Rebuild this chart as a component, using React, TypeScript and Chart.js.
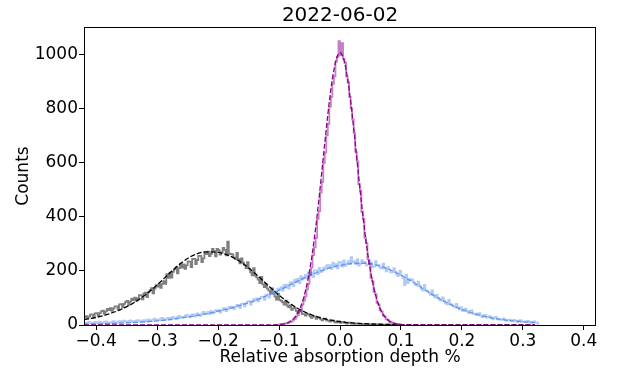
import React, { useEffect, useRef } from 'react';
import { Chart, registerables } from 'chart.js';

Chart.register(...registerables);

const TITLE = '2022-06-02';
const X_LABEL = 'Relative absorption depth %';
const Y_LABEL = 'Counts';
const X_TICKS = [-0.4, -0.3, -0.2, -0.1, 0, 0.1, 0.2, 0.3, 0.4];
const Y_TICKS = [0, 200, 400, 600, 800, 1000];
const X_MIN = -0.42;
const X_MAX = 0.42;
const Y_MAX = 1100;

// histograms: first bin left edge, bin width, counts
const GRAY_START = -0.42;
const GRAY_BIN = 0.0025;
const GRAY_COUNTS = [
  28, 33, 26, 32, 39, 38, 30, 43,
  44, 34, 44, 50, 53, 41, 50, 59,
  55, 62, 52, 61, 69, 69, 58, 76,
  77, 65, 78, 85, 89, 74, 86, 97,
  92, 101, 89, 99, 110, 109, 95, 117,
  119, 103, 121, 129, 136, 117, 134, 147,
  142, 151, 137, 152, 162, 152, 188, 174,
  193, 175, 196, 205, 213, 191, 210, 226,
  212, 224, 207, 220, 235, 234, 214, 244,
  244, 225, 240, 255, 255, 232, 246, 266,
  262, 271, 254, 263, 281, 273, 253, 281,
  276, 260, 268, 285, 277, 257, 308, 263,
  262, 261, 249, 243, 266, 243, 228, 246,
  230, 221, 210, 232, 208, 194, 183, 210,
  182, 176, 168, 155, 178, 150, 140, 151,
  134, 127, 118, 135, 115, 105, 94, 116,
  93, 89, 84, 75, 90, 72, 65, 72,
  56, 61, 63, 52, 45, 52, 53, 40,
  40, 35, 39, 40, 32, 26, 31, 31,
  23, 26, 27, 21, 17, 22, 23, 16,
  16, 13, 16, 17, 12, 9, 12, 13,
  8, 10, 11, 8, 5, 8, 9, 5,
  5, 4, 5, 4, 4, 3, 3, 3,
  3, 2, 3, 2, 2, 2, 2, 2,
  2, 1, 2, 1, 1, 1, 1, 1,
  1, 1, 0, 1, 0, 0, 1, 0,
];

const BLUE_START = -0.42;
const BLUE_BIN = 0.0025;
const BLUE_COUNTS = [
  8, 6, 9, 11, 8, 6, 9, 11,
  7, 10, 12, 9, 7, 11, 13, 9,
  10, 8, 12, 14, 10, 8, 12, 14,
  9, 13, 16, 12, 10, 15, 17, 12,
  14, 12, 16, 18, 14, 12, 16, 18,
  13, 18, 21, 17, 14, 21, 23, 18,
  20, 18, 23, 26, 21, 19, 24, 26,
  20, 26, 30, 25, 23, 30, 34, 27,
  30, 28, 34, 37, 32, 29, 36, 39,
  31, 39, 43, 37, 34, 43, 48, 40,
  43, 48, 40, 52, 43, 46, 55, 51,
  55, 46, 54, 61, 62, 51, 58, 67,
  62, 68, 59, 66, 74, 73, 63, 78,
  79, 69, 79, 86, 88, 75, 85, 95,
  90, 98, 87, 97, 105, 105, 93, 111,
  113, 101, 114, 122, 126, 111, 124, 134,
  130, 140, 127, 148, 138, 149, 134, 156,
  158, 144, 167, 159, 171, 155, 180, 168,
  175, 185, 171, 194, 183, 194, 178, 202,
  202, 188, 211, 195, 201, 213, 207, 221,
  213, 221, 207, 230, 216, 225, 209, 233,
  230, 216, 238, 218, 226, 236, 226, 250,
  232, 236, 225, 243, 219, 227, 239, 233,
  232, 220, 224, 238, 230, 214, 216, 236,
  220, 221, 211, 208, 226, 210, 198, 214,
  205, 194, 194, 210, 197, 183, 181, 201,
  183, 173, 147, 186, 155, 167, 170, 167,
  158, 149, 145, 160, 145, 133, 127, 148,
  128, 125, 119, 111, 128, 109, 101, 111,
  100, 93, 90, 102, 90, 80, 76, 93,
  77, 75, 70, 65, 78, 64, 57, 66,
  52, 58, 60, 51, 44, 52, 54, 41,
  42, 37, 42, 44, 35, 29, 35, 37,
  27, 31, 33, 27, 22, 28, 30, 21,
  22, 19, 22, 24, 18, 15, 19, 20,
  14, 18, 19, 15, 12, 16, 18, 12,
  13, 11, 13, 15, 11, 8, 11, 13,
  10, 9,
];

const MAGENTA_START = -0.1;
const MAGENTA_BIN = 0.0025;
const MAGENTA_COUNTS = [
  2, 3, 2, 4, 6, 7, 9, 12, 13, 19,
  22, 31, 37, 49, 58, 74, 90, 106, 132, 152,
  186, 212, 258, 287, 322, 392, 420, 490, 528, 598,
  636, 700, 742, 806, 842, 890, 918, 972, 990, 1048,
  995, 1040, 982, 968, 918, 896, 842, 800, 758, 708,
  640, 604, 520, 496, 418, 392, 322, 302, 242, 226,
  174, 162, 122, 114, 82, 76, 55, 49, 35, 32,
  21, 20, 13, 11, 8, 7, 4, 4, 3, 2,
];

// fitted curves
const FIT_X = [
  -0.42, -0.4, -0.38, -0.36, -0.34, -0.32, -0.3, -0.28, -0.26, -0.24,
  -0.22, -0.2, -0.18, -0.16, -0.14, -0.12, -0.1, -0.08, -0.06, -0.04,
  -0.02, 0, 0.02, 0.04, 0.06, 0.08, 0.1, 0.12, 0.14, 0.16,
  0.18, 0.2, 0.22, 0.24, 0.26, 0.28, 0.3, 0.32,
];
const GRAY_FIT = [
  20, 28, 40, 57, 80, 110, 148, 190, 230, 258,
  270, 268, 254, 228, 192, 150, 110, 76, 50, 32,
  20, 12, 8, 5, 3, 2, 1, 1, 0, 0,
  0, 0, 0, 0, 0, 0, 0, 0,
];
const BLUE_FIT = [
  3, 4, 5, 7, 9, 12, 15, 20, 26, 33,
  41, 51, 62, 75, 90, 108, 128, 150, 172, 192,
  208, 220, 227, 228, 221, 205, 184, 158, 129, 101,
  77, 57, 42, 30, 22, 16, 12, 9,
];
const MAGENTA_FIT_X = [
  -0.42, -0.2, -0.13, -0.12, -0.11, -0.1, -0.095, -0.09, -0.085, -0.08,
  -0.075, -0.07, -0.065, -0.06, -0.055, -0.05, -0.045, -0.04, -0.035, -0.03,
  -0.025, -0.02, -0.015, -0.01, -0.005, 0, 0.005, 0.01, 0.015, 0.02,
  0.025, 0.03, 0.035, 0.04, 0.045, 0.05, 0.055, 0.06, 0.065, 0.07,
  0.075, 0.08, 0.085, 0.09, 0.095, 0.1, 0.11, 0.12, 0.13, 0.2, 0.32,
];
const MAGENTA_FIT = [
  0, 0, 0, 0, 0.4, 1.6, 3, 5, 9, 16,
  26, 42, 65, 98, 142, 199, 271, 357, 455, 562,
  671, 776, 869, 942, 989, 1005, 989, 942, 869, 776,
  671, 562, 455, 357, 271, 199, 142, 98, 65, 42,
  26, 16, 9, 5, 3, 1.6, 0.4, 0, 0, 0, 0,
];

const GRAY_HIST_COLOR = 'rgba(0,0,0,0.5)';
const GRAY_FIT_COLOR = '#000000';
const BLUE_HIST_COLOR = 'rgba(100,149,237,0.5)';
const BLUE_FIT_COLOR = '#6495ed';
const MAGENTA_HIST_COLOR = 'rgba(139,0,139,0.5)';
const MAGENTA_FIT_COLOR = '#8b008b';

const FONT = 'DejaVu Sans';

function histPoints(start: number, width: number, counts: number[]) {
  const pts: { x: number; y: number }[] = [{ x: start, y: 0 }];
  counts.forEach((c, i) => pts.push({ x: start + i * width, y: c }));
  pts.push({ x: start + counts.length * width, y: 0 });
  return pts;
}

function curvePoints(xs: number[], ys: number[]) {
  return xs.map((x, i) => ({ x, y: ys[i] }));
}

function fmt(v: number) {
  const s = Math.abs(v).toFixed(1);
  return v < -1e-9 ? '\u2212' + s : s;
}

const framePlugin = {
  id: 'frameAndTitle',
  afterDraw(chart: any) {
    const { ctx, chartArea } = chart;
    ctx.save();
    ctx.strokeStyle = '#000';
    ctx.lineWidth = 1;
    ctx.strokeRect(
      Math.round(chartArea.left) + 0.5,
      Math.round(chartArea.top) + 0.5,
      Math.round(chartArea.right - chartArea.left) - 1,
      Math.round(chartArea.bottom - chartArea.top)
    );
    ctx.fillStyle = '#000';
    ctx.font = `20px "${FONT}"`;
    ctx.textAlign = 'center';
    ctx.textBaseline = 'alphabetic';
    ctx.fillText(TITLE, (chartArea.left + chartArea.right) / 2, 21);
    ctx.restore();
  },
};

export default function App() {
  const ref = useRef<HTMLCanvasElement | null>(null);

  useEffect(() => {
    if (!ref.current) return;
    const histCommon = {
      stepped: true as const,
      pointRadius: 0,
      borderWidth: 1.8,
      fill: false,
    };
    const fitCommon = {
      pointRadius: 0,
      borderWidth: 1.3,
      borderDash: [5, 2],
      cubicInterpolationMode: 'monotone' as const,
      fill: false,
    };
    const chart = new Chart(ref.current, {
      type: 'line',
      data: {
        datasets: [
          { ...fitCommon, label: 'magenta fit', data: curvePoints(MAGENTA_FIT_X, MAGENTA_FIT), borderColor: MAGENTA_FIT_COLOR, order: 0 },
          { ...histCommon, label: 'magenta', data: histPoints(MAGENTA_START, MAGENTA_BIN, MAGENTA_COUNTS), borderColor: MAGENTA_HIST_COLOR, order: 1 },
          { ...fitCommon, label: 'blue fit', data: curvePoints(FIT_X, BLUE_FIT), borderColor: BLUE_FIT_COLOR, order: 2 },
          { ...fitCommon, label: 'gray fit', data: curvePoints(FIT_X, GRAY_FIT), borderColor: GRAY_FIT_COLOR, order: 3 },
          { ...histCommon, label: 'blue', data: histPoints(BLUE_START, BLUE_BIN, BLUE_COUNTS), borderColor: BLUE_HIST_COLOR, order: 4 },
          { ...histCommon, label: 'gray', data: histPoints(GRAY_START, GRAY_BIN, GRAY_COUNTS), borderColor: GRAY_HIST_COLOR, order: 5 },
        ] as any,
      },
      options: {
        responsive: false,
        devicePixelRatio: 1,
        animation: false,
        events: [],
        layout: { padding: { left: 0, right: 21, top: 27, bottom: 0 } },
        plugins: {
          legend: { display: false },
          tooltip: { enabled: false },
          title: { display: false },
        },
        scales: {
          x: {
            type: 'linear',
            min: X_MIN,
            max: X_MAX,
            afterBuildTicks: (s: any) => {
              s.ticks = X_TICKS.map((v) => ({ value: v }));
            },
            afterFit: (s: any) => {
              s.height = 44;
            },
            border: { display: false },
            grid: { drawOnChartArea: false, drawTicks: true, tickLength: 5, color: '#000', lineWidth: 1 },
            ticks: {
              color: '#000',
              font: { family: FONT, size: 17 },
              padding: 1,
              maxRotation: 0,
              autoSkip: false,
              callback: (v: any) => fmt(Number(v)),
            },
            title: {
              display: true,
              text: X_LABEL,
              color: '#000',
              font: { family: FONT, size: 17 },
              padding: { top: 0, bottom: 1 },
            },
          },
          y: {
            type: 'linear',
            min: 0,
            max: Y_MAX,
            afterBuildTicks: (s: any) => {
              s.ticks = Y_TICKS.map((v) => ({ value: v }));
            },
            afterFit: (s: any) => {
              s.width = 84;
            },
            border: { display: false },
            grid: { drawOnChartArea: false, drawTicks: true, tickLength: 5, color: '#000', lineWidth: 1 },
            ticks: {
              color: '#000',
              font: { family: FONT, size: 17 },
              padding: 1,
              autoSkip: false,
              callback: (v: any) => String(v),
            },
            title: {
              display: true,
              text: Y_LABEL,
              color: '#000',
              font: { family: FONT, size: 17 },
              padding: { top: 13, bottom: 0 },
            },
          },
        },
      } as any,
      plugins: [framePlugin],
    });
    return () => chart.destroy();
  }, []);

  return (
    <div style={{ position: 'fixed', left: 0, top: 0, width: 617, height: 369, background: '#fff' }}>
      <canvas ref={ref} width={617} height={369} style={{ display: 'block' }} />
    </div>
  );
}
